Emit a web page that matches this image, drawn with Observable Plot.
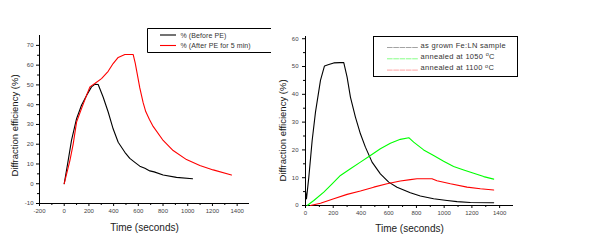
<!DOCTYPE html>
<html>
<head>
<meta charset="utf-8">
<script src="https://cdn.jsdelivr.net/npm/d3@7"></script>
<script src="https://cdn.jsdelivr.net/npm/@observablehq/plot@0.6"></script>
<style>
  html, body { margin: 0; padding: 0; background: #fff; }
  #wrap { position: relative; width: 593px; height: 242px; overflow: hidden; background: #fff; }
  #wrap svg { position: absolute; top: 0; background: transparent !important; overflow: visible; }
</style>
</head>
<body>
<div id="wrap"></div>
<script>
// ---- Left panel data ----
const beforeT = [0,32,59,100,140,181,221,248,275,315,356,396,437,491,531,572,612,653,693,728,801,909,1039];
const beforeY = [0,11.7,21.9,32.9,39.7,44.7,49,50.3,50.2,43.9,36.3,27.8,21,15.9,12.8,10.8,8.9,7.8,6.5,6.0,4.4,3.2,2.5];
const afterT = [0,46,73,100,140,181,208,248,302,356,396,437,491,558,575,590,612,639,660,690,720,801,882,990,1098,1206,1354];
const afterY = [0,11.7,20.2,31.2,38,44.7,49,50.7,53.2,56.9,60.8,63.9,65.4,65.4,61,56,48.5,41,36.5,32.5,29,21.9,16.8,12.2,9.2,7.0,4.4];
const leftLegend = ["% (Before PE)", "% (After PE for 5 min)"];
const leftXTicks = [-200,0,200,400,600,800,1000,1200,1400];
const leftYTicks = [-10,0,10,20,30,40,50,60,70];

// ---- Right panel data ----
const grownT = [0,7,24,48,72,108,137,168,204,247,276,300,324,360,396,432,480,540,600,660,756,828,924,1021,1093,1189,1357];
const grownY = [5.2,2.4,10.2,23.4,33.6,45,50.2,50.7,51.3,51.4,51.4,46.2,39,31.8,25.8,21,15.6,11.4,8.4,6.6,4.6,3.4,2.4,1.8,1.4,1.1,1.0];
const a1050T = [12,60,132,192,252,324,396,468,540,612,684,745,780,852,924,996,1068,1141,1213,1285,1357];
const a1050Y = [0,1.8,4.8,7.8,10.8,13.2,15.6,18,20.4,22.4,23.8,24.4,22.8,20,18,15.9,14,12.8,11.6,10.4,9.5];
const a1100T = [36,108,204,300,396,492,588,684,756,804,912,948,1045,1165,1261,1357];
const a1100Y = [0,0.8,2.4,4,5.2,6.6,7.8,8.8,9.3,9.6,9.6,8.9,7.8,6.6,6.0,5.6];
const rightLegend = ["as grown Fe:LN sample", "annealed at 1050 ", "annealed at 1100 "];
const rightXTicks = [0,200,400,600,800,1000,1200,1400];
const rightYTicks = [0,10,20,30,40,50,60];

const xLabel = "Time (seconds)";
const yLabel = "Diffraction efficiency (%)";

const toRows = (T, Y, s) => T.map((t, i) => ({t, v: Y[i], s}));
const minor = (ticks) => ticks.slice(0, -1).map((d, i) => (d + ticks[i + 1]) / 2).concat([ticks[ticks.length - 1] + (ticks[1] - ticks[0]) / 2]);

function panel(o) {
  const rows = o.series.flatMap(s => toRows(s.T, s.Y, s.name));
  return Plot.plot({
    width: o.width, height: 242,
    marginLeft: o.ml, marginRight: o.mr, marginTop: o.mt, marginBottom: o.mb,
    style: {fontFamily: "Liberation Sans, Arial, sans-serif", fontSize: "6px", background: "transparent", overflow: "visible"},
    x: {domain: o.xDomain},
    y: {domain: o.yDomain},
    marks: [
      Plot.axisX({ticks: o.xTicks, tickSize: 3, tickPadding: 2, tickFormat: d => String(d), label: null, fill: "#444", stroke: "#000", fontSize: 6}),
      Plot.axisX({ticks: minor(o.xTicks).filter(d => d < o.xDomain[1]), tickSize: 2, tickFormat: () => "", label: null, stroke: "#000"}),
      Plot.axisY({ticks: o.yTicks, tickSize: 3, tickPadding: o.typad, tickFormat: d => String(d), label: null, fill: "#444", stroke: "#000", fontSize: 6}),
      Plot.axisY({ticks: minor(o.yTicks).filter(d => d < o.yDomain[1]), tickSize: 2, tickFormat: () => "", label: null, stroke: "#000"}),
      Plot.ruleX([o.xDomain[0]], {stroke: "#000", strokeWidth: 1}),
      Plot.ruleY([o.yDomain[0]], {stroke: "#000", strokeWidth: 1}),
      ...o.series.map(s => Plot.line(rows.filter(r => r.s === s.name), {x: "t", y: "v", stroke: s.color, strokeWidth: 1.1})),
      Plot.text([xLabel], {frameAnchor: "bottom", dy: o.xdy, lineAnchor: "middle", textAnchor: "middle", fontSize: 10, fill: "#222"}),
      Plot.text([yLabel], {frameAnchor: "left", dx: o.ydx, dy: o.ydy, rotate: -90, lineAnchor: "middle", textAnchor: "middle", fontSize: 9.5, fill: "#111"})
    ]
  });
}

const wrap = document.getElementById("wrap");

const left = panel({
  width: 271, ml: 39, mr: 22, mt: 35, mb: 39,
  xDomain: [-200, 1500], yDomain: [-10, 75],
  xTicks: leftXTicks, yTicks: leftYTicks, typad: 3,
  xdy: 24, ydx: -25, ydy: 6,
  series: [
    {name: leftLegend[0], T: beforeT, Y: beforeY, color: "#000"},
    {name: leftLegend[1], T: afterT, Y: afterY, color: "#f00"}
  ]
});
left.style.left = "0px";
wrap.appendChild(left);

const right = panel({
  width: 322, ml: 34, mr: 80, mt: 36, mb: 37,
  xDomain: [0, 1500], yDomain: [0, 60.8],
  xTicks: rightXTicks, yTicks: rightYTicks, typad: 4,
  xdy: 23, ydx: -23, ydy: 9.5,
  series: [
    {name: rightLegend[0], T: grownT, Y: grownY, color: "#000"},
    {name: rightLegend[1], T: a1050T, Y: a1050Y, color: "#0f0"},
    {name: rightLegend[2], T: a1100T, Y: a1100Y, color: "#f00"}
  ]
});
right.style.left = "271px";
wrap.appendChild(right);

// ---- Left legend (box clipped at the panel edge) ----
{
  const g = d3.select(left).append("g").attr("font-family", "Liberation Sans, Arial, sans-serif").attr("text-anchor", "start");
  g.append("path").attr("d", "M271,28.5H147.5V52.5H271").attr("fill", "none").attr("stroke", "#000").attr("stroke-width", 1);
  const cols = ["#000", "#f00"];
  leftLegend.forEach((t, i) => {
    const y = 35 + i * 10.5;
    g.append("line").attr("x1", 160).attr("x2", 176).attr("y1", y).attr("y2", y).attr("stroke", cols[i]).attr("stroke-width", 1.1);
    g.append("text").attr("x", 180.5).attr("y", y + 2.5).attr("text-anchor", "start").attr("font-size", 7).attr("letter-spacing", 0.1).attr("fill", "#333").text(t);
  });
}

// ---- Right legend ----
{
  const ox = 271;
  const g = d3.select(right).append("g").attr("font-family", "Liberation Sans, Arial, sans-serif").attr("text-anchor", "start");
  g.append("rect").attr("x", 373.5 - ox).attr("y", 36.5).attr("width", 144).attr("height", 40).attr("fill", "#fff").attr("stroke", "#000").attr("stroke-width", 1);
  const cols = ["#999", "#7f7", "#f99"];
  rightLegend.forEach((t, i) => {
    const y = 45 + i * 11.3;
    g.append("line").attr("x1", 387 - ox).attr("x2", 418 - ox).attr("y1", y + 2.5).attr("y2", y + 2.5)
      .attr("stroke", cols[i]).attr("stroke-width", 0.9).attr("stroke-dasharray", "5.6,0.7");
    const tx = g.append("text").attr("x", 420.5 - ox).attr("y", y + 2.7).attr("text-anchor", "start").attr("font-size", 7.5).attr("letter-spacing", 0.3).attr("fill", "#333").text(t);
    if (i > 0) {
      tx.append("tspan").attr("dy", -2.8).attr("font-size", 5.5).text("o");
      tx.append("tspan").attr("dy", 2.8).text("C");
    }
  });
}
</script>
</body>
</html>
